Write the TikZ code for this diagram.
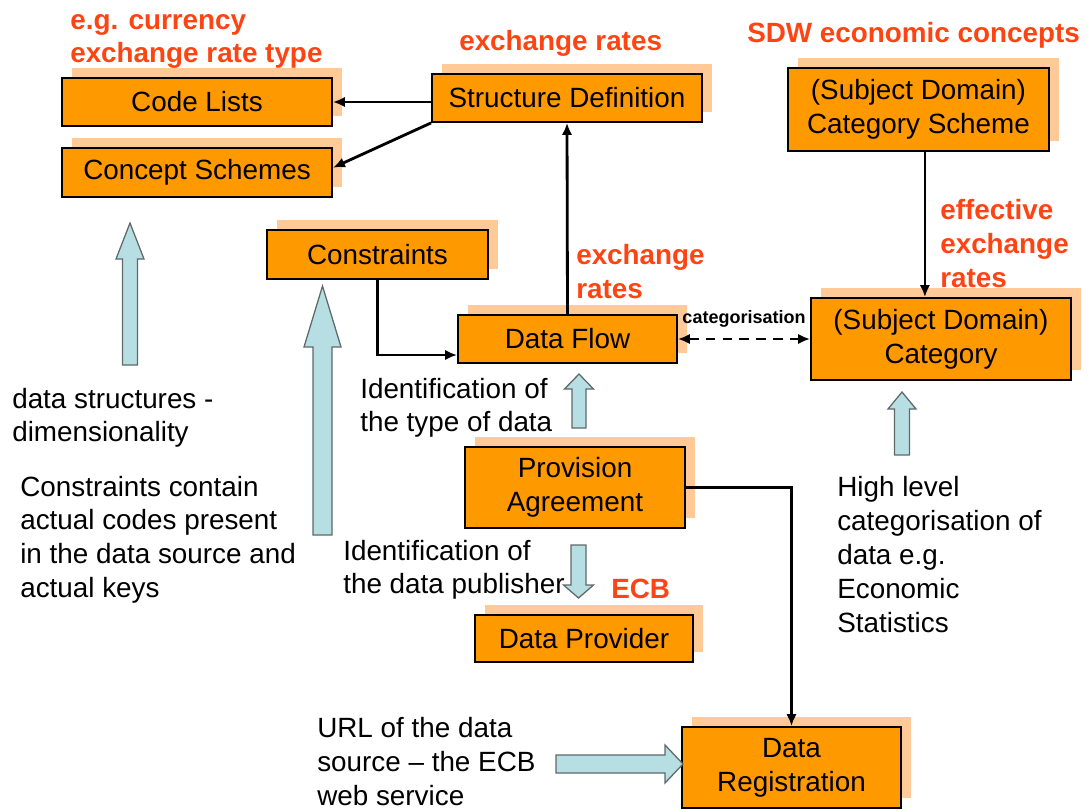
\documentclass[tikz,border=0pt]{standalone}
\usepackage{fontspec}
\setmainfont{Liberation Sans}
\usetikzlibrary{arrows.meta,shadows}
\definecolor{boxfill}{RGB}{255,153,0}
\definecolor{boxshade}{RGB}{255,202,152}
\definecolor{labelred}{RGB}{255,68,20}
\definecolor{hintfill}{RGB}{183,222,226}
\definecolor{hintline}{RGB}{95,105,105}
\newcommand\bigtext{\fontsize{19.8}{24.1}\selectfont}
\tikzset{
  sdmx/.style={draw, line width=1.3pt, fill=boxfill, font=\bigtext, align=center, inner sep=0pt,
    drop shadow={shadow xshift=0.24cm, shadow yshift=0.25cm, fill=boxshade, opacity=1}},
  note/.style={anchor=north west, inner sep=0pt, align=left, font=\bigtext},
  hint/.style={note, text=labelred, font=\bigtext\bfseries},
  flowline/.style={draw=black, line width=2pt, ->},
  fatarrow/.style={fill=hintfill, draw=hintline, line width=0.9pt, line join=miter},
}
\begin{document}
\begin{tikzpicture}[x=0.025cm, y=-0.025cm, >={Latex[length=3mm,width=2.6mm]}]
            \useasboundingbox (0,0) rectangle (1091,809);
            % boxes
            \node[sdmx, minimum width=6.75cm, minimum height=1.2cm] (codes) at (197,102) {Code Lists};
            \node[sdmx, minimum width=6.75cm, minimum height=1.225cm] (concepts) at (197,172.5) {Concept Schemes};
            \node[sdmx, minimum width=6.75cm, minimum height=1.2cm] (dsd) at (567,98) {Structure Definition};
            \node[sdmx, minimum width=5.525cm, minimum height=1.225cm] (cons) at (377.5,254.5) {Constraints};
            \node[sdmx, minimum width=5.475cm, minimum height=1.2cm] (flow) at (567.5,339) {Data Flow};
            \node[sdmx, minimum width=6.525cm, minimum height=2.075cm] (scheme) at (918.5,109.5) {(Subject Domain)\\Category Scheme};
            \node[sdmx, minimum width=6.5cm, minimum height=2.05cm] (cat) at (941,339) {(Subject Domain)\\Category};
            \node[sdmx, minimum width=5.5cm, minimum height=2.025cm] (prov) at (575,487.5) {Provision\\Agreement};
            \node[sdmx, minimum width=5.45cm, minimum height=1.175cm] (provider) at (584,638.5) {Data Provider};
            \node[sdmx, minimum width=5.475cm, minimum height=2.025cm] (reg) at (791.5,767.5) {Data\\Registration};

            % connectors
            \draw[flowline] (dsd.west |- codes.east) -- (codes.east);
            \draw[flowline] (dsd.south west) -- ([yshift=0.12cm]concepts.east);
            \draw[flowline] (flow.north) -- (dsd.south);
            \draw[flowline] (cons.south) |- ([yshift=-0.4cm]flow.west);
            \draw[flowline, <->, dash pattern=on 7pt off 5pt] (flow.east) -- node[midway, anchor=base, yshift=0.375cm, inner sep=0pt, font=\fontsize{12.8}{15}\selectfont\bfseries] (catlabel) {categorisation} (cat.west);
            \draw[flowline] ([xshift=0.16cm]scheme.south) -- ([xshift=0.16cm]scheme.south |- cat.north);
            \draw[flowline] (prov.east) -| (reg.north);

            % block arrows
            \draw[fatarrow] (122.5,365) -- (122.5,259) -- (116,259) -- (130,223) -- (144,259) -- (137.5,259) -- (137.5,365) -- cycle;
            \draw[fatarrow] (313,535) -- (313,347) -- (304,347) -- (322.5,286) -- (341,347) -- (332,347) -- (332,535) -- cycle;
            \draw[fatarrow] (572,428) -- (572,389) -- (564.5,389) -- (579,374) -- (593.5,389) -- (586,389) -- (586,428) -- cycle;
            \draw[fatarrow] (894.5,455) -- (894.5,409) -- (888,409) -- (902,392) -- (916,409) -- (909.5,409) -- (909.5,455) -- cycle;
            \draw[fatarrow] (571,545) -- (571,585) -- (563.5,585) -- (578.5,598) -- (593.5,585) -- (586,585) -- (586,545) -- cycle;
            \draw[fatarrow] (556,755) -- (665,755) -- (665,745) -- (683,764) -- (665,783) -- (665,773) -- (556,773) -- cycle;

            % red labels
            \node[hint] (typelabel) at (70,5) {\strut e.g. currency\\exchange rate type};
            \node[hint] (dsdlabel) at (459,26.2) {\strut exchange rates};
            \node[hint] (sdwlabel) at (747,18.2) {\strut SDW economic concepts};
            \node[hint] (catname) at (940,195.5) {\strut effective\\exchange\\rates};
            \node[hint] (flowlabel) at (576,240.5) {\strut exchange\\rates};
            \node[hint] (ecblabel) at (611,574) {\strut ECB};

            % notes
            \node[note] (dimnote) at (12,384) {\strut data structures -\\dimensionality};
            \node[note] (consnote) at (20,472) {\strut Constraints contain\\actual codes present\\in the data source and\\actual keys};
            \node[note] (typenote) at (360,374) {\strut Identification of\\the type of data};
            \node[note] (pubnote) at (343,536) {\strut Identification of\\the data publisher};
            \node[note] (catnote) at (837,472.5) {\strut High level\\categorisation of\\data e.g.\\Economic\\Statistics};
            \node[note] (urlnote) at (317,713.5) {\strut URL of the data\\source – the ECB\\web service};
        \end{tikzpicture}
\end{document}
